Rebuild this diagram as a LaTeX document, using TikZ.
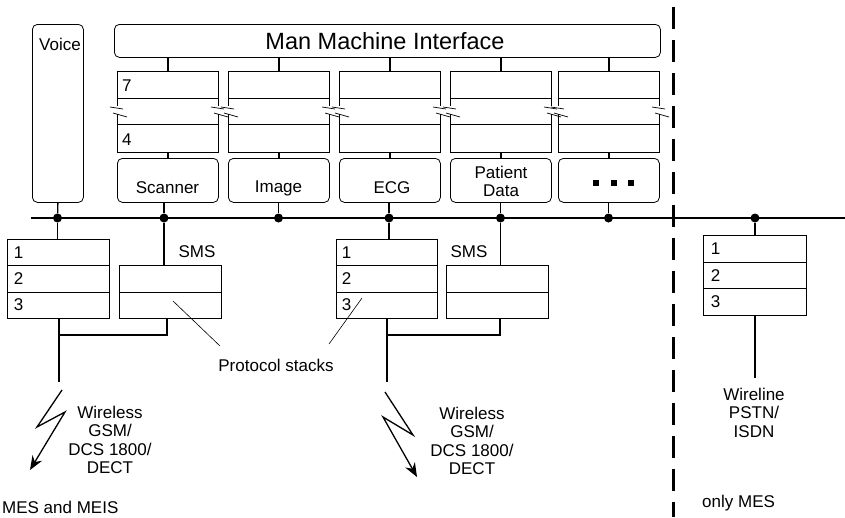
\documentclass[tikz,border=0pt]{standalone}
\usepackage{fontspec}
\setmainfont{Liberation Sans}
\usetikzlibrary{arrows.meta}
\begin{document}
\begin{tikzpicture}[x=1pt,y=-1pt,
  box/.style={draw, line width=0.8pt, inner sep=0pt, anchor=north west},
  rbox/.style={box, rounded corners=5pt},
  conn/.style={line width=1.3pt},
  thinline/.style={line width=0.6pt},
  busdot/.style={circle, fill=black, inner sep=0pt, minimum size=9pt},
  lbl/.style={font=\fontsize{17}{18.5}\selectfont, inner sep=0pt},
  bigl/.style={font=\fontsize{23.5}{26}\selectfont, inner sep=0pt},
  brk/.style={line width=0.7pt}
]
\useasboundingbox (0,0) rectangle (845,517);

% Voice and MMI
\node[rbox, minimum width=51pt, minimum height=178pt] (voice) at (32,24) {};
\node[lbl, anchor=west] (voicet) at (39,44) {Voice};
\node[rbox, minimum width=546pt, minimum height=33pt] (mmi) at (114,24) {};
\node[bigl] (mmit) at (385,41) {Man Machine Interface};

% upper stacks (7..4) and application boxes
\foreach \i/\x in {1/117,2/228,3/339,4/450,5/558}{
  \node[box, minimum width=101pt, minimum height=81pt] (s\i) at (\x,71) {};
  \draw[line width=0.8pt] (\x,98) -- ++(101,0);
  \draw[line width=0.8pt] (\x,124) -- ++(101,0);
  % break marks on both edges
  \foreach \e in {0,101}{
    \fill[white] (\x+\e-1.5,106) rectangle (\x+\e+1.5,114);
    \draw[brk] (\x+\e-7,107) -- (\x+\e+6,109);
    \draw[brk] (\x+\e-4,113) -- (\x+\e+10,117);
  }
  \node[rbox, minimum width=101pt, minimum height=44pt] (a\i) at (\x,158) {};
  \draw[conn] (mmi.south -| s\i.north) -- (s\i.north);
  \draw[conn] (s\i.south) -- (a\i.north);
}
\node[lbl, anchor=west] (n7) at (122,86) {7};
\node[lbl, anchor=west] (n4) at (122,140) {4};
\node[lbl] (scan) at (167.5,188) {Scanner};
\node[lbl] (img) at (278.5,188) {Image};
\node[lbl] (ecg) at (392,188) {ECG};
\node[lbl, align=center] (pat) at (501,181.5) {Patient\\Data};
\foreach \x in {596,614,631}{\fill (\x-2.7,180.3) rectangle (\x+2.7,185.7);}

% bus
\coordinate (busL) at (31,218);
\coordinate (busR) at (845,218);
\draw[line width=1.5pt] (busL) -- (busR);
\node[busdot] (d1) at (57.5,218) {};
\node[busdot] (d2) at (164,218) {};
\node[busdot] (d3) at (278.5,218) {};
\node[busdot] (d4) at (389,218) {};
\node[busdot] (d5) at (500.5,218) {};
\node[busdot] (d6) at (608.5,218) {};
\node[busdot] (d7) at (755,218) {};
\draw[conn] (voice.south) -- (d1);
\draw[conn] (a1.south -| d2) -- (d2);
\draw[conn] (a2.south -| d3) -- (d3);
\draw[conn] (a3.south -| d4) -- (d4);
\draw[conn] (a4.south -| d5) -- (d5);
\draw[conn] (a5.south -| d6) -- (d6);

% separator
\draw[line width=3pt, dash pattern=on 22pt off 11pt] (673,7) -- (673,517);

% lower stacks
\node[box, minimum width=102pt, minimum height=79pt] (l1) at (7,239) {};
\draw[line width=0.8pt] (7,265) -- ++(102,0) (7,292) -- ++(102,0);
\node[box, minimum width=102pt, minimum height=53pt] (m1) at (119,265) {};
\draw[line width=0.8pt] (119,292) -- ++(102,0);
\node[box, minimum width=101pt, minimum height=79pt] (l2) at (336,239) {};
\draw[line width=0.8pt] (336,265) -- ++(101,0) (336,292) -- ++(101,0);
\node[box, minimum width=102pt, minimum height=53pt] (m2) at (446,265) {};
\draw[line width=0.8pt] (446,292) -- ++(102,0);
\node[box, minimum width=103pt, minimum height=80pt] (r1) at (703,235) {};
\draw[line width=0.8pt] (703,262) -- ++(103,0) (703,288) -- ++(103,0);

\foreach \n/\x/\y in {a/13/253,b/13/279,c/13/305,d/341/253,e/341/279,f/341/305,g/710/249,h/710/276,k/710/302}{
  \node[lbl, anchor=west] (num\n) at (\x,\y) {};
}
\node[lbl, anchor=west] at (numa) {1};
\node[lbl, anchor=west] at (numb) {2};
\node[lbl, anchor=west] at (numc) {3};
\node[lbl, anchor=west] at (numd) {1};
\node[lbl, anchor=west] at (nume) {2};
\node[lbl, anchor=west] at (numf) {3};
\node[lbl, anchor=west] at (numg) {1};
\node[lbl, anchor=west] at (numh) {2};
\node[lbl, anchor=west] at (numk) {3};
\node[lbl] (sms1) at (197,252) {SMS};
\node[lbl] (sms2) at (469,252) {SMS};

% connectors bus -> lower stacks
\draw[conn] (d1) -- (d1 |- l1.north);
\draw[conn] (d2) -- (d2 |- m1.north);
\draw[conn] (d4) -- (d4 |- l2.north);
\draw[conn] (d5) -- (d5 |- m2.north);
\draw[conn] (d7) -- (d7 |- r1.north);

% downlinks
\coordinate (e1) at (59,382);
\coordinate (e2) at (387,382);
\coordinate (e3) at (755,378);
\draw[conn] (l1.south -| e1) -- (e1);
\draw[conn] (m1.south -| 167,0) -- (167,335) -- (59,335);
\draw[conn] (l2.south -| e2) -- (e2);
\draw[conn] (m2.south -| 500,0) -- (500,335) -- (387,335);
\draw[conn] (r1.south -| e3) -- (e3);

% protocol stacks label
\node[lbl] (proto) at (276,365) {Protocol stacks};
\draw[thinline] (173,301) -- (220,346);
\draw[thinline] (329,344) -- (362,298);

% lightning
\coordinate (z1a) at (62,390); \coordinate (z1b) at (37,427);
\coordinate (z1c) at (65,412); \coordinate (z1d) at (30,470);
\draw[conn, line join=miter, -{Stealth[length=14pt,width=11pt]}] (z1a) -- (z1b) -- (z1c) -- (z1d);
\coordinate (z2a) at (385,392); \coordinate (z2b) at (413,435);
\coordinate (z2c) at (383,417); \coordinate (z2d) at (417,477);
\draw[conn, line join=miter, -{Stealth[length=14pt,width=11pt]}] (z2a) -- (z2b) -- (z2c) -- (z2d);

\node[lbl, align=center] (w1) at (110,440) {Wireless\\GSM/\\DCS 1800/\\DECT};
\node[lbl, align=center] (w2) at (472,441) {Wireless\\GSM/\\DCS 1800/\\DECT};
\node[lbl, align=center] (w3) at (754,412.5) {Wireline\\PSTN/\\ISDN};
\node[lbl, anchor=west] (mes1) at (2,507) {MES and MEIS};
\node[lbl, anchor=west] (mes2) at (702,503) {only MES};
\end{tikzpicture}
\end{document}
